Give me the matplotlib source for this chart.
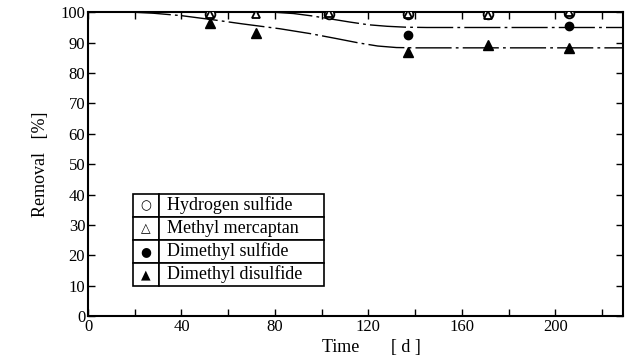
import matplotlib.pyplot as plt
from matplotlib.ticker import MultipleLocator, FuncFormatter

plt.rcParams['font.family'] = ['Liberation Serif', 'DejaVu Serif']

# data (day, removal %)
h2s_days = [52, 103, 137, 171, 206]
h2s_vals = [99.5, 99.6, 99.4, 99.4, 99.8]
mm_days = [52, 72, 103, 137, 171, 206]
mm_vals = [99.4, 99.5, 99.7, 99.3, 99.2, 100.0]
dms_days = [137, 206]
dms_vals = [92.5, 95.5]
dmds_days = [52, 72, 137, 171, 206]
dmds_vals = [96.6, 93.2, 87.0, 89.4, 88.2]

# hand-drawn trend curves
upper_days = [20, 80, 88, 96, 104, 112, 120, 128, 136, 145, 229]
upper_vals = [100, 100, 99.6, 98.8, 97.8, 96.8, 95.9, 95.4, 95.1, 95.0, 95.0]
lower_days = [20, 28, 40, 53, 66, 82, 95, 106, 116, 124, 132, 140, 229]
lower_vals = [100, 99.7, 98.9, 97.6, 96.2, 94.6, 93.0, 91.4, 89.9, 88.9, 88.4, 88.3, 88.3]

legend_labels = ['Hydrogen sulfide', 'Methyl mercaptan', 'Dimethyl sulfide', 'Dimethyl disulfide']
legend_glyphs = ['\u25CB', '\u25B3', '\u25CF', '\u25B2']

fig = plt.figure(figsize=(6.31, 3.58), dpi=100)
ax = fig.add_axes([0.1395, 0.1173, 0.8479, 0.8483])

dash = (26, 3, 2, 3)
ax.plot(upper_days, upper_vals, color='black', lw=1.0, dashes=dash)
ax.plot(lower_days, lower_vals, color='black', lw=1.0, dashes=dash)

ax.plot(dmds_days, dmds_vals, '^', ms=6.5, color='black', zorder=5)
ax.plot(dms_days, dms_vals, 'o', ms=6, color='black', zorder=5)
ax.plot(h2s_days, h2s_vals, 'o', ms=7, mfc='white', mec='black', mew=1.3, zorder=6)
ax.plot(mm_days, mm_vals, '^', ms=6, mfc='white', mec='black', mew=1.3, zorder=7)

ax.set_xlim(0, 229)
ax.set_ylim(0, 100)
ax.xaxis.set_major_locator(MultipleLocator(20))
ax.xaxis.set_major_formatter(FuncFormatter(lambda v, p: '%d' % v if int(v) % 40 == 0 else ''))
ax.yaxis.set_major_locator(MultipleLocator(10))
ax.tick_params(direction='in', length=5, width=1.0, top=True, right=True,
               labelsize=12, pad=2)
for s in ax.spines.values():
    s.set_linewidth(1.5)

ax.set_xlabel('Time       [ d ]', fontsize=13, labelpad=0)
ax.xaxis.set_label_coords(0.53, -0.075)
ax.set_ylabel('Removal   [%]', fontsize=13, labelpad=8)

tbl = ax.table(cellText=[[g, t] for g, t in zip(legend_glyphs, legend_labels)],
               colWidths=[0.137, 0.863], cellLoc='left',
               bbox=[0.084, 0.099, 0.357, 0.303])
tbl.auto_set_font_size(False)
for (r, c), cell in tbl.get_celld().items():
    cell.set_linewidth(1.2)
    txt = cell.get_text()
    if c == 0:
        txt.set_fontfamily('DejaVu Sans')
        txt.set_fontsize(9)
        txt.set_horizontalalignment('center')
        cell._loc = 'center'
    else:
        txt.set_fontsize(13)
        cell.PAD = 0.05

fig.savefig('out.png', dpi=100)
